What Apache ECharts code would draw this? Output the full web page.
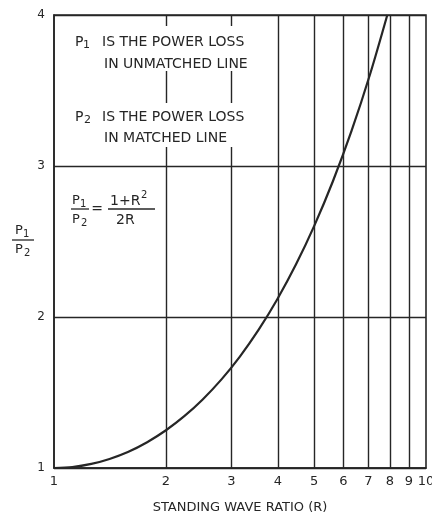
<!DOCTYPE html>
<html>
<head>
<meta charset="utf-8">
<script src="https://cdn.jsdelivr.net/npm/echarts@6/dist/echarts.min.js"></script>
<style>
  html, body { margin: 0; padding: 0; background: #ffffff; }
  #chart { width: 432px; height: 512px; }
</style>
</head>
<body>
<div id="chart"></div>
<script>
// Standing wave ratio R and the resulting loss ratio P1/P2
const ratioR    = [1.0, 1.12, 1.26, 1.41, 1.58, 1.78, 2.0, 2.24, 2.51, 2.82, 3.16, 3.55, 3.98, 4.47, 5.01, 5.62, 6.31, 7.08, 7.87];
const lossRatio = [1.0, 1.006, 1.027, 1.06, 1.106, 1.171, 1.25, 1.343, 1.454, 1.587, 1.738, 1.916, 2.116, 2.347, 2.605, 2.899, 3.234, 3.611, 4.0];

// Tick labels and the intermediate log grid lines
const xTickValues = [1, 2, 3, 4, 5, 6, 7, 8, 9, 10];
const xGridValues = [2, 3, 4, 5, 6, 7, 8, 9];
const yTickValues = [1, 2, 3, 4];

const INK = '#262626';
const FONT = '"DejaVu Sans", sans-serif';

const chart = echarts.init(document.getElementById('chart'), null, { renderer: 'canvas' });

function txt(x, y, text, size, align) {
  return {
    type: 'text', z: 101, silent: true,
    style: { x: x, y: y, text: text, font: size + 'px ' + FONT, fill: INK,
             textAlign: align || 'left', textVerticalAlign: 'middle' }
  };
}
function bar(x1, x2, y) {
  return {
    type: 'line', z: 101, silent: true,
    shape: { x1: x1, y1: y, x2: x2, y2: y },
    style: { stroke: INK, lineWidth: 1.3 }
  };
}
function whiteBox(x, y, w, h) {
  return {
    type: 'rect', z: 100, silent: true,
    shape: { x: x, y: y, width: w, height: h },
    style: { fill: '#ffffff' }
  };
}

const option = {
  backgroundColor: '#ffffff',
  animation: false,
  grid: {
    left: 54, right: 6, top: 15, bottom: 44,
    outerBoundsMode: 'none', containLabel: false,
    show: true, borderColor: INK, borderWidth: 1.6, backgroundColor: 'transparent'
  },
  xAxis: {
    type: 'log', logBase: 10, min: 1, max: 10,
    name: 'STANDING WAVE RATIO (R)', nameLocation: 'middle', nameGap: 33,
    nameTextStyle: { fontFamily: FONT, fontSize: 13, color: INK },
    axisLine: { show: true, lineStyle: { color: INK, width: 1.6 } },
    axisTick: { show: false },
    splitLine: { show: false },
    minorTick: { show: false },
    axisLabel: {
      customValues: xTickValues,
      formatter: function (v) { return String(Math.round(v)); },
      margin: 7, fontFamily: FONT, fontSize: 13, color: INK,
      showMinLabel: true, showMaxLabel: true, hideOverlap: false
    }
  },
  yAxis: {
    type: 'value', min: 1, max: 4, interval: 1,
    axisLine: { show: true, lineStyle: { color: INK, width: 1.6 } },
    axisTick: { show: false },
    splitLine: { show: true, lineStyle: { color: INK, width: 1.4 } },
    axisLabel: { customValues: yTickValues, margin: 9, fontFamily: FONT, fontSize: 12, color: INK,
                 formatter: function (v) { return String(v); } }
  },
  series: [{
    type: 'line',
    data: ratioR.map(function (r, i) { return [r, lossRatio[i]]; }),
    smooth: 0.3,
    symbol: 'none',
    clip: true,
    lineStyle: { color: INK, width: 2.2 },
    z: 5,
    markLine: {
      silent: true,
      symbol: 'none',
      label: { show: false },
      lineStyle: { type: 'solid', color: INK, width: 1.4 },
      data: xGridValues.map(function (v) { return { xAxis: v }; })
    }
  }],
  graphic: [
    // annotation blocks sit on white so the grid lines break around them
    whiteBox(64, 26, 196, 45),
    whiteBox(64, 103, 196, 44),
    txt(75, 42, 'P', 14), txt(83, 45, '1', 11), txt(102, 42, 'IS THE POWER LOSS', 14),
    txt(104, 64, 'IN UNMATCHED LINE', 14),
    txt(75, 117, 'P', 14), txt(84, 120, '2', 11), txt(102, 117, 'IS THE POWER LOSS', 14),
    txt(104, 138, 'IN MATCHED LINE', 14),

    // formula P1/P2 = (1+R^2)/(2R)
    txt(72, 201, 'P', 13), txt(80, 204, '1', 10),
    bar(71, 89, 209),
    txt(72, 220, 'P', 13), txt(81, 223, '2', 10),
    txt(97, 209, '=', 14, 'center'),
    txt(110, 201, '1+R', 14), txt(141, 195, '2', 10),
    bar(108, 155, 209),
    txt(116, 220, '2R', 14),

    // vertical axis title P1/P2
    txt(15, 231, 'P', 13), txt(23, 234, '1', 10),
    bar(12, 34, 240),
    txt(15, 250, 'P', 13), txt(24, 253, '2', 10)
  ]
};

chart.setOption(option);
</script>
</body>
</html>
